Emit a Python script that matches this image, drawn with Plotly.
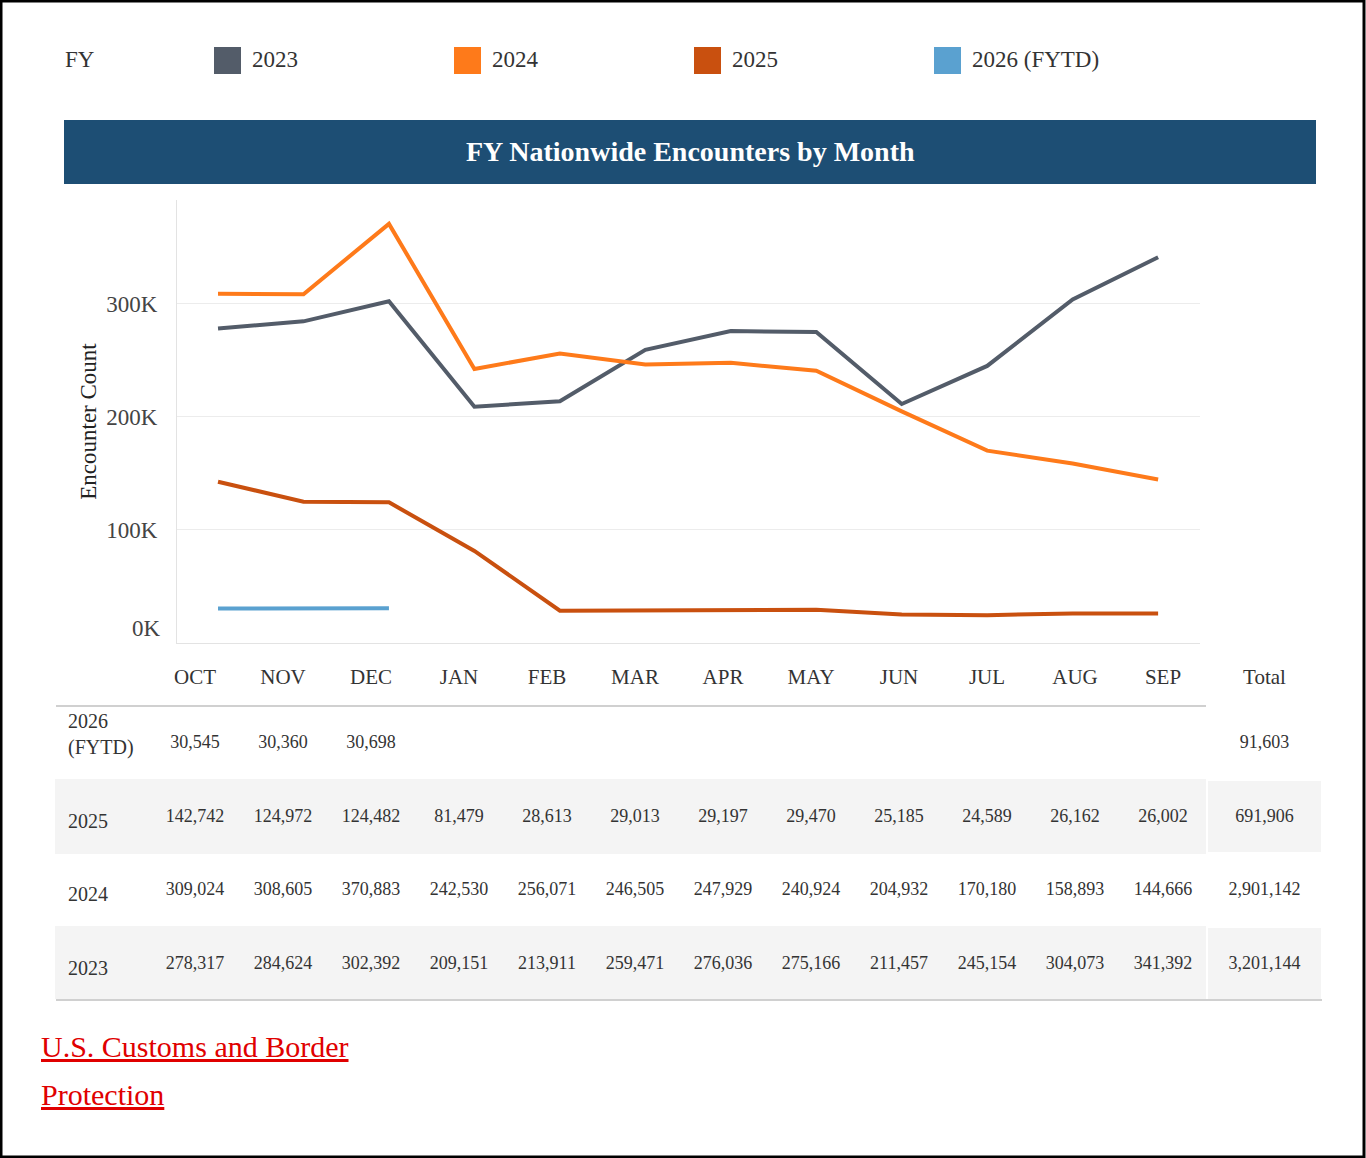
import plotly.graph_objects as go

# ---------------- data ----------------
months = ["OCT", "NOV", "DEC", "JAN", "FEB", "MAR", "APR", "MAY", "JUN", "JUL", "AUG", "SEP"]
fy_2023 = [278317, 284624, 302392, 209151, 213911, 259471, 276036, 275166, 211457, 245154, 304073, 341392]
fy_2024 = [309024, 308605, 370883, 242530, 256071, 246505, 247929, 240924, 204932, 170180, 158893, 144666]
fy_2025 = [142742, 124972, 124482, 81479, 28613, 29013, 29197, 29470, 25185, 24589, 26162, 26002]
fy_2026 = [30545, 30360, 30698]
series_names = ["2023", "2024", "2025", "2026 (FYTD)"]
series_colors = ["#535c69", "#fe7a1a", "#c9500f", "#5aa1d0"]
table_row_labels = ["2026<br>(FYTD)", "2025", "2024", "2023"]
table_totals = [91603, 691906, 2901142, 3201144]
y_tick_vals = [100000, 200000, 300000]
y_tick_text = ["100K", "200K", "300K"]
title_text = "FY Nationwide Encounters by Month"
source_lines = ["U.S. Customs and Border", "Protection"]

# ---------------- layout helpers ----------------
W, H = 1366, 1158
SERIF = "Liberation Serif, Times New Roman, serif"
PAD = "\u2009"


def px(x):
    return x / W


def py(y):
    return 1 - y / H


def vcenter(text):
    # single-line cells get a blank first line so they sit mid-row
    return text if "<br>" in text else "\u00a0<br>" + text


fig = go.Figure()

series_values = [fy_2023, fy_2024, fy_2025, fy_2026]
for name, vals, col in zip(series_names, series_values, series_colors):
    fig.add_trace(go.Scatter(
        x=months[:len(vals)], y=vals, mode="lines", name=name,
        line=dict(color=col, width=4), showlegend=False,
        hovertemplate="%{x}: %{y:,}<extra>" + name + "</extra>",
    ))

# ---------------- table ----------------
rows = [fy_2026, fy_2025, fy_2024, fy_2023]
row_fill = ["rgba(0,0,0,0)", "#f4f4f4", "rgba(0,0,0,0)", "#f4f4f4"]
label_col = [vcenter("<br>".join(PAD + part for part in lab.split("<br>"))) for lab in table_row_labels]
num_cols = []
for i, m in enumerate(months):
    num_cols.append([vcenter(f"{r[i]:,}") if i < len(r) else "" for r in rows])
num_cols.append([vcenter(f"{t:,}") for t in table_totals])
n_cols = 1 + len(num_cols)
col_widths = [95] + [88] * 12 + [115]
fill_cols = [row_fill[:] for _ in range(n_cols)]
line_cols = [row_fill[:] for _ in range(n_cols - 1)] + [["white"] * 4]
clear = "rgba(0,0,0,0)"

# background layer: row shading and the separator before the Total column
fig.add_trace(go.Table(
    domain=dict(x=[px(56), px(1322)], y=[py(1000), py(660)]),
    columnwidth=col_widths,
    header=dict(values=[""] * n_cols, height=46, fill=dict(color=clear), line=dict(color=clear, width=1)),
    cells=dict(values=[[""] * 4 for _ in range(n_cols)], height=73.5,
               fill=dict(color=fill_cols), line=dict(color=line_cols, width=2)),
    hoverinfo="skip",
))
# text layer: month columns and totals
fig.add_trace(go.Table(
    domain=dict(x=[px(151), px(1322)], y=[py(995), py(660)]),
    columnwidth=col_widths[1:],
    header=dict(
        values=months + ["Total"], height=41,
        fill=dict(color=clear), line=dict(color=clear, width=1),
        font=dict(family=SERIF, size=21, color="#333"), align="center",
    ),
    cells=dict(
        values=num_cols, height=73.5,
        fill=dict(color=clear), line=dict(color=clear, width=1),
        align="center", font=dict(family=SERIF, size=18, color="#333"),
    ),
))
# text layer: row labels
fig.add_trace(go.Table(
    domain=dict(x=[px(56), px(151)], y=[py(996), py(660)]),
    columnwidth=[95],
    header=dict(values=[""], height=42, fill=dict(color=clear), line=dict(color=clear, width=1)),
    cells=dict(
        values=[label_col], height=73.5,
        fill=dict(color=clear), line=dict(color=clear, width=1),
        align="left", font=dict(family=SERIF, size=20, color="#333"),
    ),
))

# ---------------- shapes ----------------
shapes = []
# title bar
shapes.append(dict(type="rect", xref="paper", yref="paper", x0=px(64), x1=px(1316), y0=py(184), y1=py(120),
                   fillcolor="#1d4e74", line=dict(width=0), layer="below"))
# legend swatches
legend_x = [214, 454, 694, 934]
for lx, col in zip(legend_x, series_colors):
    shapes.append(dict(type="rect", xref="paper", yref="paper", x0=px(lx), x1=px(lx + 27), y0=py(74), y1=py(47),
                       fillcolor=col, line=dict(width=0)))
# table rules
for yy in [706, 1000]:
    shapes.append(dict(type="line", xref="paper", yref="paper", x0=px(56), x1=px(1322), y0=py(yy), y1=py(yy),
                       line=dict(color="#d0d0d0", width=2), layer="below"))
# outer frame
shapes.append(dict(type="rect", xref="paper", yref="paper", x0=px(1), x1=px(1364), y0=py(1157), y1=py(1),
                   line=dict(color="black", width=3), fillcolor="rgba(0,0,0,0)"))

# ---------------- annotations ----------------
ann = []
ann.append(dict(text="FY", x=px(63), y=py(60), xref="paper", yref="paper", xanchor="left", yanchor="middle",
                showarrow=False, font=dict(family=SERIF, size=23, color="#333")))
for lx, name in zip(legend_x, series_names):
    ann.append(dict(text=name, x=px(lx + 36), y=py(60), xref="paper", yref="paper", xanchor="left",
                    yanchor="middle", showarrow=False, font=dict(family=SERIF, size=23, color="#333")))
ann.append(dict(text="<b>" + title_text + "</b>", x=px(690), y=py(152), xref="paper", yref="paper",
                xanchor="center", yanchor="middle", showarrow=False,
                font=dict(family=SERIF, size=28, color="white")))
ann.append(dict(text="0K", x=0, xref="x domain", y=0, yref="y", xanchor="right", yanchor="middle",
                xshift=-14, yshift=15, showarrow=False, font=dict(family=SERIF, size=23, color="#444")))
for i, line in enumerate(source_lines):
    ann.append(dict(text="<u>" + line + "</u>", x=px(39), y=py(1046 + 48 * i), xref="paper", yref="paper",
                    xanchor="left", yanchor="middle", showarrow=False,
                    font=dict(family=SERIF, size=30, color="#e00000")))

fig.update_layout(
    width=W, height=H, autosize=False,
    margin=dict(l=0, r=0, t=0, b=0, pad=0),
    paper_bgcolor="white", plot_bgcolor="white",
    shapes=shapes, annotations=ann, showlegend=False,
    xaxis=dict(domain=[px(177), px(1200)], type="category", categoryarray=months, range=[-0.48, 11.49],
               showticklabels=False, ticks="", showgrid=False, showline=True, linecolor="#e3e3e3",
               linewidth=1, zeroline=False, fixedrange=True),
    yaxis=dict(domain=[py(643), py(200)], range=[0, 392000], tickvals=y_tick_vals, ticktext=y_tick_text,
               showgrid=True, gridcolor="#ececec", gridwidth=1, showline=True, linecolor="#e3e3e3",
               linewidth=1, zeroline=False, ticks="", ticklabelstandoff=14,
               tickfont=dict(family=SERIF, size=23, color="#444"),
               title=dict(text="Encounter Count", standoff=3, font=dict(family=SERIF, size=23, color="#222")),
               fixedrange=True),
    font=dict(family=SERIF),
)

fig.write_html("out.html", include_plotlyjs=True, full_html=True,
               config=dict(displayModeBar=False, responsive=False),
               post_script="document.body.style.margin='0';document.body.style.overflow='hidden';")
